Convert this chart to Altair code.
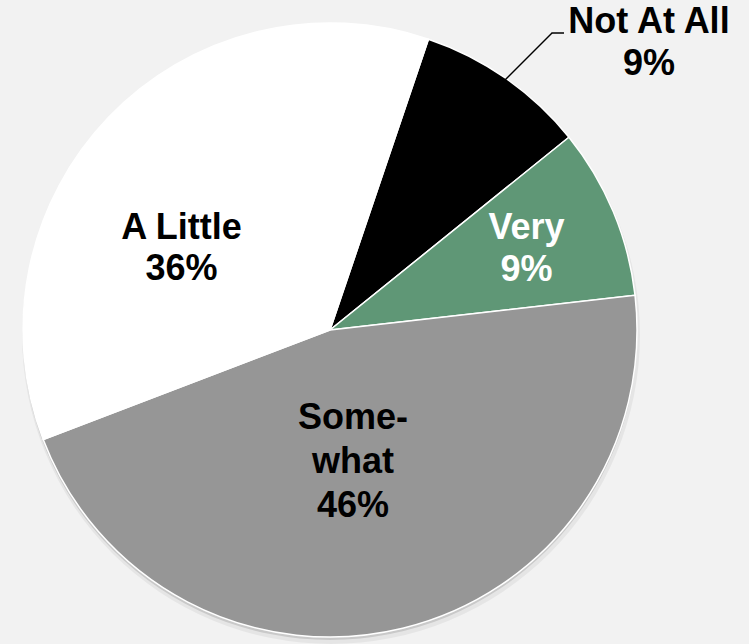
import math
import altair as alt
import pandas as pd

# ---- data ----
categories = ["Not At All", "Very", "Some-what", "A Little"]
display_names = ["Not At All", "Very", "Some-\nwhat", "A Little"]
values = [9, 9, 46, 36]
order_idx = [0, 1, 2, 3]
slice_colors = ["#000000", "#5F9776", "#969696", "#FFFFFF"]

df = pd.DataFrame({
    "cat": categories,
    "disp": display_names,
    "value": values,
    "idx": order_idx,
})

W, H = 749, 644
CX, CY = 330, 330
R = 307
START = math.radians(18.7)

theta_scale = alt.Scale(domain=[0, 100], range=[START, START + 2 * math.pi])
color_scale = alt.Scale(domain=categories, range=slice_colors)

base = alt.Chart(df).transform_stack(
    stack="value", groupby=[], as_=["v0", "v1"], sort=[alt.SortField("idx")]
).transform_calculate(
    mid="(datum.v0 + datum.v1) / 2",
    txt="datum.disp + '\\n' + datum.value + '%'",
)

# soft shadow
shadow_df = pd.DataFrame({"s": [0]})
shadow1 = alt.Chart(shadow_df).mark_arc(
    theta=0, theta2=2 * math.pi, outerRadius=R + 2, color="#000000", opacity=0.05
).encode(x=alt.value(CX + 1), y=alt.value(CY + 5))
shadow2 = alt.Chart(shadow_df).mark_arc(
    theta=0, theta2=2 * math.pi, outerRadius=R, color="#000000", opacity=0.12
).encode(x=alt.value(CX), y=alt.value(CY + 3))

pie = base.mark_arc(outerRadius=R, stroke="white", strokeWidth=1.5).encode(
    theta=alt.Theta("v0:Q", scale=theta_scale),
    theta2="v1:Q",
    color=alt.Color("cat:N", scale=color_scale, legend=None),
    x=alt.value(CX),
    y=alt.value(CY),
)


def label(cat, radius, dx, dy, color, lh):
    return base.transform_filter(alt.datum.cat == cat).mark_text(
        radius=radius, dx=dx, dy=dy, align="center", baseline="middle",
        font="Liberation Sans", fontWeight="bold", fontSize=36,
        lineBreak="\n", lineHeight=lh, color=color,
    ).encode(
        theta=alt.Theta("mid:Q", scale=theta_scale),
        text="txt:N",
        x=alt.value(CX),
        y=alt.value(CY),
    )


lab_notatall = label("Not At All", 360, 113, -13, "#000000", 42)
lab_very = label("Very", 212, 1, -20, "#FFFFFF", 42)
lab_some = label("Some-what", 135, -9, -43, "#000000", 44)
lab_little = label("A Little", 170, -26, 16, "#000000", 41)

# leader line for the outside label
leader_df = pd.DataFrame({"s": [0]})
leader1 = alt.Chart(leader_df).mark_rule(color="#000000", strokeWidth=1.5).encode(
    x=alt.value(505), y=alt.value(80), x2=alt.value(552), y2=alt.value(33)
)
leader2 = alt.Chart(leader_df).mark_rule(color="#000000", strokeWidth=1.5).encode(
    x=alt.value(551.5), y=alt.value(33), x2=alt.value(564), y2=alt.value(33)
)

chart = alt.layer(
    shadow1, shadow2, pie, leader1, leader2,
    lab_notatall, lab_very, lab_some, lab_little,
).properties(
    width=W, height=H, autosize="none", padding=0, background="#F2F2F2"
).configure_view(stroke=None)

chart.save("out.html", embed_options={"renderer": "svg", "actions": False})
